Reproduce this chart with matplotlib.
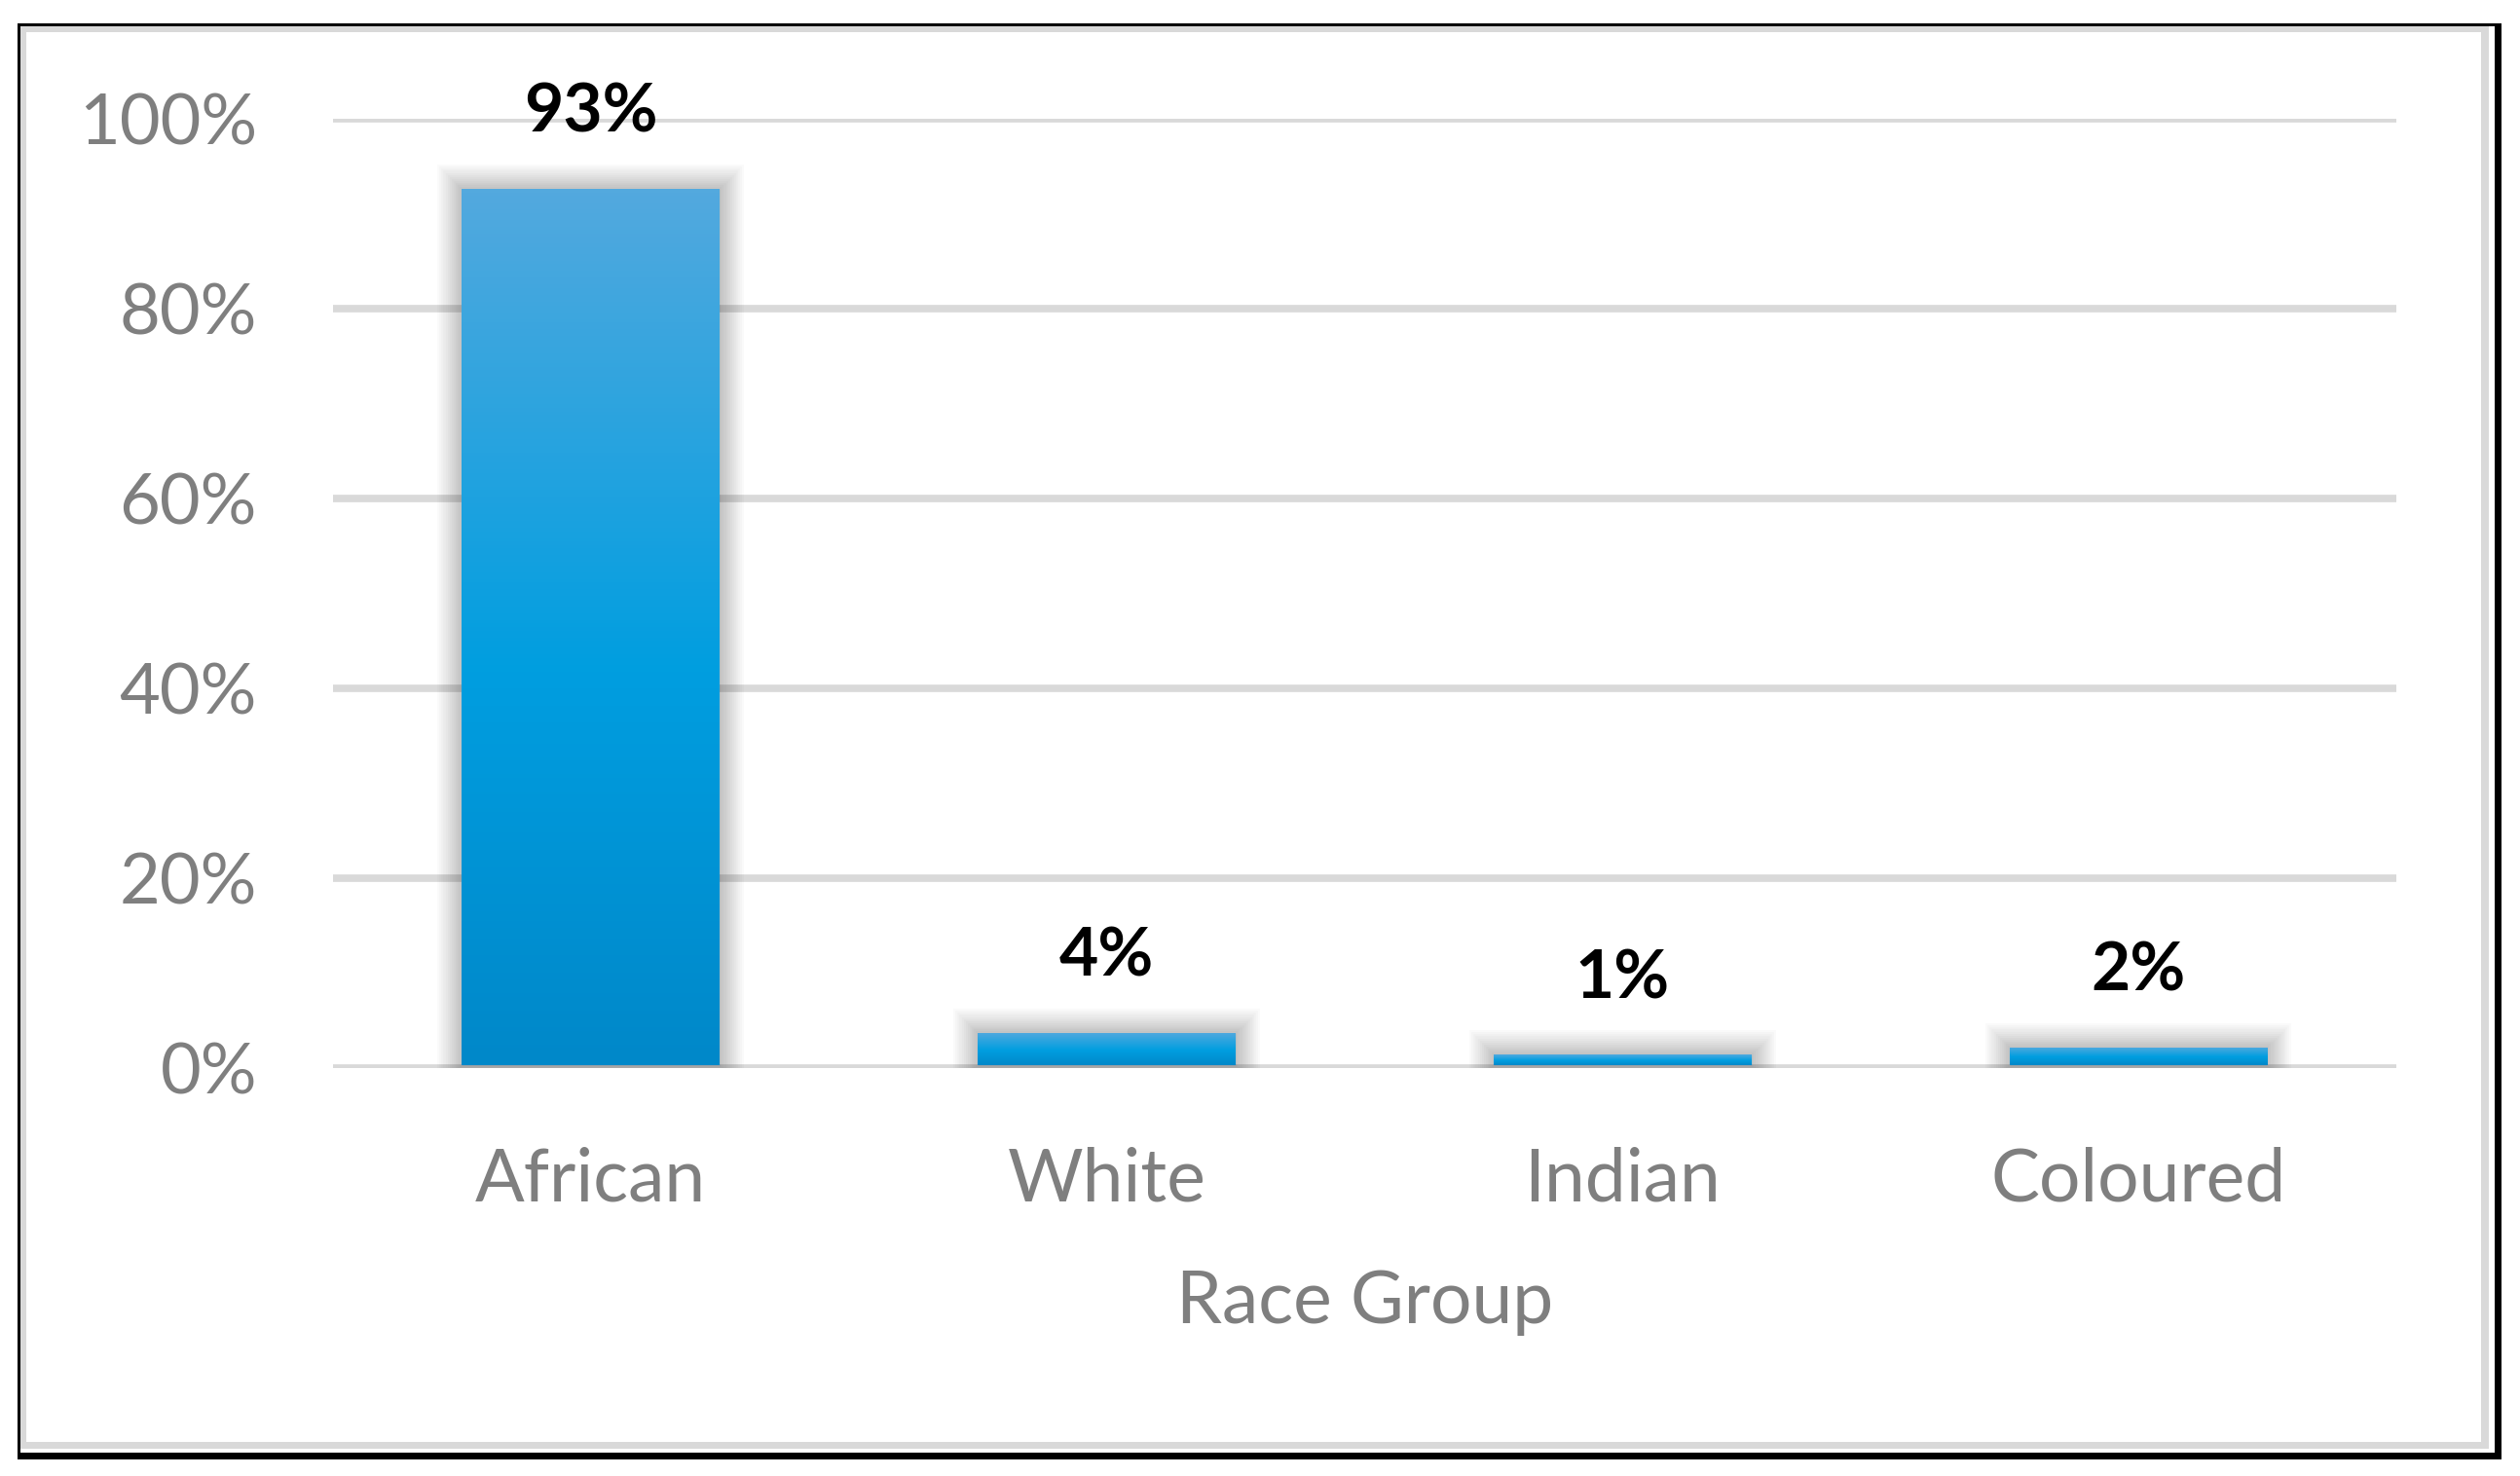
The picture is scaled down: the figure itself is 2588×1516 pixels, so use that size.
import numpy as np
import matplotlib.pyplot as plt
from matplotlib.patches import Rectangle
from matplotlib.colors import LinearSegmentedColormap
import matplotlib.patheffects as pe

plt.rcParams['font.family'] = ['Lato', 'DejaVu Sans']

groups = ["African", "White", "Indian", "Coloured"]
shares = [92.6, 3.7, 1.4, 2.2]
labels = ["93%", "4%", "1%", "2%"]
yticks = [0, 20, 40, 60, 80, 100]

W, H = 2588, 1516
fig = plt.figure(figsize=(W / 100, H / 100), dpi=100)

# outer frame: thin black on top/left, heavier on right/bottom, light grey inner frame
def px_rect(x0, y0, x1, y1, color):
    fig.patches.append(Rectangle((x0 / W, 1 - y1 / H), (x1 - x0) / W, (y1 - y0) / H,
                                 transform=fig.transFigure, facecolor=color,
                                 edgecolor='none', zorder=-5))

px_rect(18, 24, 2569, 1499, 'black')
px_rect(21, 27, 2562, 1492, 'white')
px_rect(21, 27, 2556, 1488, '#d9d9d9')
px_rect(27, 33, 2548, 1481, 'white')

# axes area in the shrunk 1568x919 reference coordinates
ax = fig.add_axes([207 / 1568, 1 - 665 / 919, (1491 - 207) / 1568, (665 - 74) / 919])
ax.set_facecolor('none')
for s in ax.spines.values():
    s.set_visible(False)

for t in yticks:
    ax.axhline(t, color='#d9d9d9', lw=5.5, zorder=1)

cmap = LinearSegmentedColormap.from_list(
    'bar', [(0, '#53a9de'), (0.55, '#009ee0'), (1, '#0088c9')])
grad = np.linspace(0, 1, 256).reshape(-1, 1)

# soft outer shadow
shadow = [pe.Stroke(linewidth=w, foreground='black', alpha=0.018) for w in range(36, 0, -3)]

width = 0.5
for i, v in enumerate(shares):
    bar = Rectangle((i - width / 2, 0.3), width, v - 0.3, facecolor='#009ee0',
                    edgecolor='none', zorder=2)
    bar.set_path_effects(shadow + [pe.Normal()])
    ax.add_patch(bar)
    img = ax.imshow(grad, cmap=cmap, aspect='auto', zorder=3, origin='upper',
                    extent=(i - width / 2, i + width / 2, 0.3, v))
    img.set_clip_path(bar)
    ax.annotate(labels[i], (i, v), xytext=(0, 42), textcoords='offset points',
                ha='center', va='baseline', fontsize=50, fontweight='bold',
                color='black', annotation_clip=False)

ax.set_xlim(-0.5, len(groups) - 0.5)
ax.set_ylim(0, 100)
ax.set_yticks(yticks)
ax.set_yticklabels([f"{t}%" for t in yticks])
ax.set_xticks(range(len(groups)))
ax.set_xticklabels(groups)
ax.tick_params(axis='y', length=0, pad=56, labelsize=52, labelcolor='#7f7f7f')
ax.tick_params(axis='x', length=0, pad=58, labelsize=54, labelcolor='#7f7f7f')

fig.text(849 / 1568, 1 - 811 / 919, "Race Group", ha='center', va='center',
         fontsize=54, color='#7f7f7f')

fig.savefig('out.png', dpi=100)
